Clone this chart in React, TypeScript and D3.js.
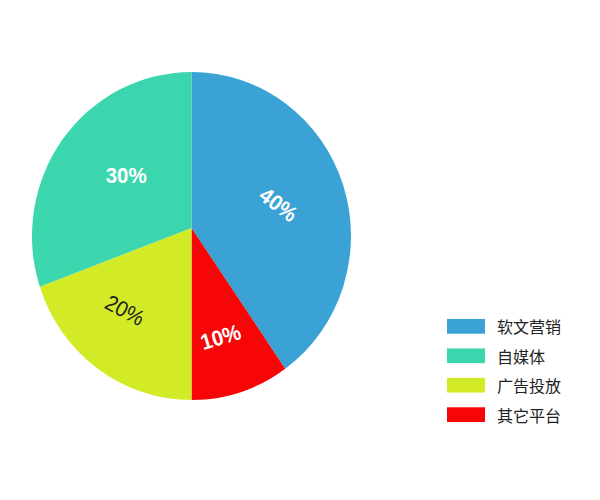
import React from "react";
import * as d3 from "d3";

const categories = ["软文营销", "自媒体", "广告投放", "其它平台"];
const values = [40, 30, 20, 10];
const labels = ["40%", "30%", "20%", "10%"];
// drawing order clockwise from 12 o'clock
const pieOrder = [0, 3, 2, 1];

const colors = ["#3aa2d5", "#3cd6ae", "#d3eb27", "#f60606"];
const labelColors = ["#ffffff", "#ffffff", "#222222", "#ffffff"];
const labelWeights = ["bold", "bold", "normal", "bold"];
const labelRotations = [37, 0, 28, -17];
const labelDist = [90, 84, 106, 113];
const labelAngleShift = 3; // degrees

const W = 600;
const H = 500;
const CX = 191.5;
const CY = 236;
const RX = 159.5;
const RY = 164;
const APEX_X = 191.5;
const APEX_Y = 228;

const pt = (a: number): [number, number] => [
  CX + RX * Math.sin(a),
  CY - RY * Math.cos(a),
];

export default function App() {
  const pieData = d3
    .pie<number>()
    .sort(null)
    .value((i) => values[i])(pieOrder);

  const slices = pieData.map((d) => {
    const i = d.data;
    const [x0, y0] = pt(d.startAngle);
    const [x1, y1] = pt(d.endAngle);
    const large = d.endAngle - d.startAngle > Math.PI ? 1 : 0;
    const path = `M${APEX_X},${APEX_Y}L${x0},${y0}A${RX},${RY} 0 ${large} 1 ${x1},${y1}Z`;
    const mid = (d.startAngle + d.endAngle) / 2 + (labelAngleShift * Math.PI) / 180;
    const lx = APEX_X + labelDist[i] * Math.sin(mid);
    const ly = APEX_Y - labelDist[i] * Math.cos(mid);
    return { i, path, lx, ly };
  });

  const legendY = d3
    .scaleBand<number>()
    .domain(categories.map((_, i) => i))
    .range([319, 422])
    .paddingInner(0.5);

  return (
    <svg
      width={W}
      height={H}
      style={{ position: "absolute", left: 0, top: 0, background: "#fff" }}
    >
      <rect width={W} height={H} fill="#fff" />
      {slices.map((s) => (
        <path key={s.i} d={s.path} fill={colors[s.i]} />
      ))}
      {slices.map((s) => (
        <text
          key={"l" + s.i}
          transform={`translate(${s.lx},${s.ly}) rotate(${labelRotations[s.i]})`}
          textAnchor="middle"
          dominantBaseline="central"
          fontFamily="'Liberation Sans', Arial, sans-serif"
          fontSize={22}
          textLength={41}
          lengthAdjust="spacingAndGlyphs"
          fontWeight={labelWeights[s.i]}
          fill={labelColors[s.i]}
        >
          {labels[s.i]}
        </text>
      ))}
      {categories.map((c, i) => {
        const y = legendY(i) as number;
        const h = legendY.bandwidth();
        return (
          <g key={c}>
            <rect x={447} y={y} width={38} height={h} fill={colors[i]} />
            <text
              x={497}
              y={y + h / 2}
              dominantBaseline="central"
              fontFamily="'Noto Sans CJK SC', sans-serif"
              fontSize={16}
              fill="#222"
            >
              {c}
            </text>
          </g>
        );
      })}
    </svg>
  );
}
